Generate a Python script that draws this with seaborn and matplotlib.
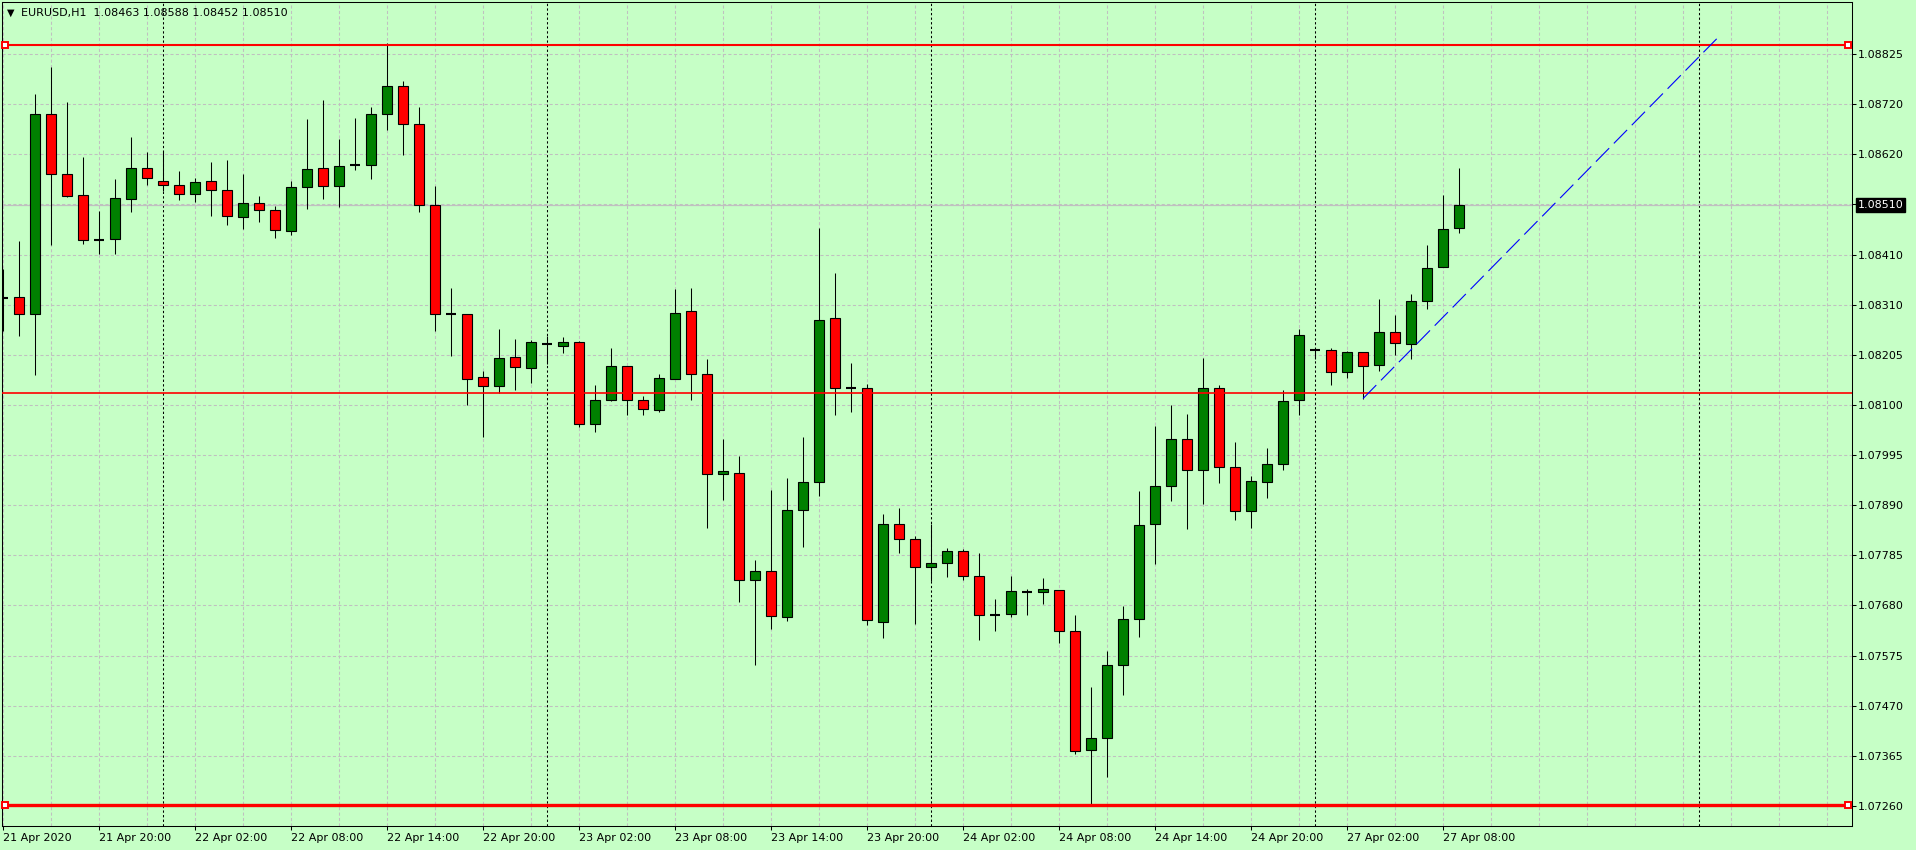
import numpy as np
import pandas as pd
import matplotlib
matplotlib.use("Agg")
import matplotlib.pyplot as plt
import matplotlib.transforms as mtransforms
import seaborn as sns

# ------------------------------------------------------------
# EURUSD H1 bars, 21 Apr 2020 14:00 -> 27 Apr 2020 09:00
# ------------------------------------------------------------
opens = [
    1.08318, 1.08319, 1.08285, 1.08700, 1.08575, 1.08531, 1.08439, 1.08441, 1.08524, 1.08587,
    1.08560, 1.08552, 1.08533, 1.08560, 1.08543, 1.08485, 1.08516, 1.08500, 1.08456, 1.08548,
    1.08587, 1.08550, 1.08595, 1.08595, 1.08700, 1.08758, 1.08679, 1.08510, 1.08285, 1.08285,
    1.08152, 1.08134, 1.08194, 1.08172, 1.08222, 1.08218, 1.08225, 1.08056, 1.08106, 1.08175,
    1.08106, 1.08085, 1.08149, 1.08290, 1.08160, 1.07952, 1.07954, 1.07730, 1.07749, 1.07653,
    1.07877, 1.07934, 1.08275, 1.08131, 1.08131, 1.07644, 1.07846, 1.07815, 1.07757, 1.07765,
    1.07790, 1.07738, 1.07657, 1.07659, 1.07706, 1.07705, 1.07709, 1.07624, 1.07376, 1.07401,
    1.07553, 1.07649, 1.07846, 1.07925, 1.08023, 1.07959, 1.08131, 1.07965, 1.07875, 1.07934,
    1.07971, 1.08104, 1.08209, 1.08210, 1.08163, 1.08204, 1.08177, 1.08247, 1.08221, 1.08312,
    1.08381, 1.08463,
]
highs = [
    1.08377, 1.08436, 1.08742, 1.08798, 1.08725, 1.08611, 1.08498, 1.08565, 1.08652, 1.08621,
    1.08623, 1.08582, 1.08566, 1.08600, 1.08604, 1.08575, 1.08530, 1.08509, 1.08560, 1.08690,
    1.08729, 1.08648, 1.08692, 1.08715, 1.08847, 1.08769, 1.08715, 1.08550, 1.08338, 1.08285,
    1.08165, 1.08253, 1.08232, 1.08230, 1.08238, 1.08236, 1.08228, 1.08136, 1.08213, 1.08175,
    1.08113, 1.08159, 1.08336, 1.08338, 1.08190, 1.08024, 1.07988, 1.07772, 1.07918, 1.07943,
    1.08028, 1.08463, 1.08369, 1.08182, 1.08138, 1.07868, 1.07880, 1.07822, 1.07846, 1.07797,
    1.07795, 1.07786, 1.07691, 1.07739, 1.07712, 1.07734, 1.07709, 1.07657, 1.07508, 1.07583,
    1.07676, 1.07915, 1.08051, 1.08095, 1.08076, 1.08192, 1.08136, 1.08018, 1.07947, 1.08005,
    1.08126, 1.08253, 1.08213, 1.08213, 1.08207, 1.08205, 1.08315, 1.08282, 1.08325, 1.08427,
    1.08532, 1.08588,
]
lows = [
    1.08249, 1.08239, 1.08158, 1.08428, 1.08528, 1.08430, 1.08409, 1.08409, 1.08497, 1.08553,
    1.08539, 1.08521, 1.08517, 1.08487, 1.08470, 1.08461, 1.08476, 1.08443, 1.08448, 1.08503,
    1.08524, 1.08507, 1.08584, 1.08565, 1.08667, 1.08615, 1.08497, 1.08249, 1.08197, 1.08095,
    1.08027, 1.08120, 1.08126, 1.08141, 1.08179, 1.08202, 1.08049, 1.08039, 1.08103, 1.08074,
    1.08074, 1.08079, 1.08149, 1.08105, 1.07839, 1.07897, 1.07685, 1.07554, 1.07629, 1.07646,
    1.07800, 1.07906, 1.08074, 1.08079, 1.07637, 1.07610, 1.07787, 1.07639, 1.07729, 1.07737,
    1.07730, 1.07606, 1.07625, 1.07653, 1.07658, 1.07681, 1.07600, 1.07369, 1.07262, 1.07320,
    1.07490, 1.07612, 1.07764, 1.07895, 1.07837, 1.07889, 1.07933, 1.07856, 1.07839, 1.07900,
    1.07960, 1.08074, 1.08190, 1.08137, 1.08151, 1.08108, 1.08166, 1.08199, 1.08191, 1.08295,
    1.08381, 1.08452,
]
closes = [
    1.08318, 1.08285, 1.08700, 1.08575, 1.08530, 1.08437, 1.08439, 1.08525, 1.08587, 1.08568,
    1.08552, 1.08533, 1.08558, 1.08543, 1.08487, 1.08516, 1.08500, 1.08458, 1.08548, 1.08585,
    1.08550, 1.08591, 1.08595, 1.08700, 1.08758, 1.08680, 1.08510, 1.08285, 1.08285, 1.08149,
    1.08134, 1.08192, 1.08174, 1.08225, 1.08222, 1.08225, 1.08056, 1.08104, 1.08175, 1.08106,
    1.08087, 1.08150, 1.08287, 1.08160, 1.07952, 1.07957, 1.07730, 1.07749, 1.07655, 1.07877,
    1.07934, 1.08271, 1.08129, 1.08131, 1.07647, 1.07846, 1.07815, 1.07757, 1.07765, 1.07790,
    1.07738, 1.07657, 1.07657, 1.07707, 1.07706, 1.07711, 1.07624, 1.07374, 1.07401, 1.07553,
    1.07649, 1.07844, 1.07927, 1.08023, 1.07959, 1.08129, 1.07965, 1.07875, 1.07936, 1.07971,
    1.08102, 1.08240, 1.08209, 1.08164, 1.08204, 1.08175, 1.08247, 1.08223, 1.08312, 1.08379,
    1.08460, 1.08510,
]

x_tick_bars = [0, 6, 12, 18, 24, 30, 36, 42, 48, 54, 60, 66, 72, 78, 84, 90]
x_tick_labels = [
    "21 Apr 2020", "21 Apr 20:00", "22 Apr 02:00", "22 Apr 08:00", "22 Apr 14:00",
    "22 Apr 20:00", "23 Apr 02:00", "23 Apr 08:00", "23 Apr 14:00", "23 Apr 20:00",
    "24 Apr 02:00", "24 Apr 08:00", "24 Apr 14:00", "24 Apr 20:00", "27 Apr 02:00",
    "27 Apr 08:00",
]
day_start_bars = [10, 34, 58, 82, 106]

price_tick_labels = [
    "1.07260", "1.07365", "1.07470", "1.07575", "1.07680", "1.07785", "1.07890", "1.07995",
    "1.08100", "1.08205", "1.08310", "1.08410", "", "1.08620", "1.08720", "1.08825",
]

level_lines = [1.08844, 1.08120, 1.07262]   # horizontal lines
trend_bars = [85, 107.2]
trend_prices = [1.08108, 1.08860]
bid_price = 1.08510
title_text = "EURUSD,H1  1.08463 1.08588 1.08452 1.08510"

# ------------------------------------------------------------
BG = "#c6ffc6"
GRID = "#c0c0c0"
sns.set_theme(style="white", rc={"figure.facecolor": BG, "axes.facecolor": BG})
plt.rcParams["font.family"] = ["DejaVu Sans"]

df = pd.DataFrame({"open": opens, "high": highs, "low": lows, "close": closes})
df["bar"] = np.arange(len(df))
up = df["close"] > df["open"]
down = df["close"] < df["open"]
flat = df["close"] == df["open"]

fig = plt.figure(figsize=(19.16, 8.5), dpi=100)
ax = fig.add_axes([2.3 / 1916, 1 - 826 / 850, 1849.7 / 1916, 824 / 850])
ax.set_xlim(-0.044, 115.56)
ax.set_ylim(1.072184, 1.089333)

# grid
price_ticks = np.linspace(1.07260, 1.08825, len(price_tick_labels))
for p in price_ticks:
    ax.axhline(p, color=GRID, lw=0.75, dashes=(3, 2.2), zorder=1)
for b in range(0, 116, 3):
    ax.axvline(b, color=GRID, lw=0.75, dashes=(3, 2.2), zorder=1)
for b in day_start_bars:
    ax.axvline(b, color="black", lw=0.75, dashes=(2.2, 2.2), zorder=1.5)
ax.axhline(bid_price, color=GRID, lw=0.9, zorder=1.6)

# candles
w = 0.6
ax.vlines(df["bar"], df["low"], df["high"], color="black", lw=0.75, zorder=3)
ax.bar(df["bar"][up], (df["close"] - df["open"])[up], bottom=df["open"][up], width=w,
       color="#008000", edgecolor="black", linewidth=0.8, zorder=4)
ax.bar(df["bar"][down], (df["open"] - df["close"])[down], bottom=df["close"][down], width=w,
       color="#ff0000", edgecolor="black", linewidth=0.8, zorder=4)
ax.hlines(df["open"][flat], df["bar"][flat] - w / 2, df["bar"][flat] + w / 2,
          color="black", lw=1.5, zorder=4)

# objects
ax.axhline(level_lines[0], color="#ff0000", lw=1.5, zorder=5)
ax.axhline(level_lines[1], color="#ff0000", lw=1.2, zorder=5)
ax.axhline(level_lines[2], color="#ff0000", lw=2.4, zorder=5)
for lv in (level_lines[0], level_lines[2]):
    ax.plot([0.13, 115.3], [lv, lv], ls="none", marker="s", ms=4.2, mfc="white",
            mec="#ff0000", mew=1.4, zorder=6, clip_on=False)
sns.lineplot(x=trend_bars, y=trend_prices, ax=ax, color="#0000ff", lw=0.8,
             linestyle=(0, (17, 6)), zorder=6)

# axes / ticks
for s in ax.spines.values():
    s.set_color("black")
    s.set_linewidth(0.75)
ax.yaxis.tick_right()
ax.set_yticks(price_ticks)
ax.set_yticklabels(price_tick_labels)
ax.set_xticks(x_tick_bars)
ax.set_xticklabels(x_tick_labels, ha="left")
ax.tick_params(axis="both", which="both", length=3, width=0.75, color="black",
               labelsize=8, labelcolor="black", direction="out")
ax.tick_params(axis="y", pad=1.5, right=True, left=False)
ax.tick_params(axis="x", pad=2, bottom=True)
ax.grid(False)

# current price box
trans = mtransforms.blended_transform_factory(ax.transAxes, ax.transData)
ax.text(1.0031, bid_price, "1.08510", transform=trans, color="white", fontsize=8,
        va="center", ha="left", zorder=10, clip_on=False,
        bbox=dict(boxstyle="square,pad=0.18", fc="black", ec="black"))

# title
fig.text(7 / 1916, 1 - 13 / 850, "\u25bc", fontsize=7, va="center", ha="left", color="black")
fig.text(21 / 1916, 1 - 13 / 850, title_text, fontsize=8, va="center", ha="left", color="black")

fig.savefig("out.png", dpi=100, facecolor=BG)
